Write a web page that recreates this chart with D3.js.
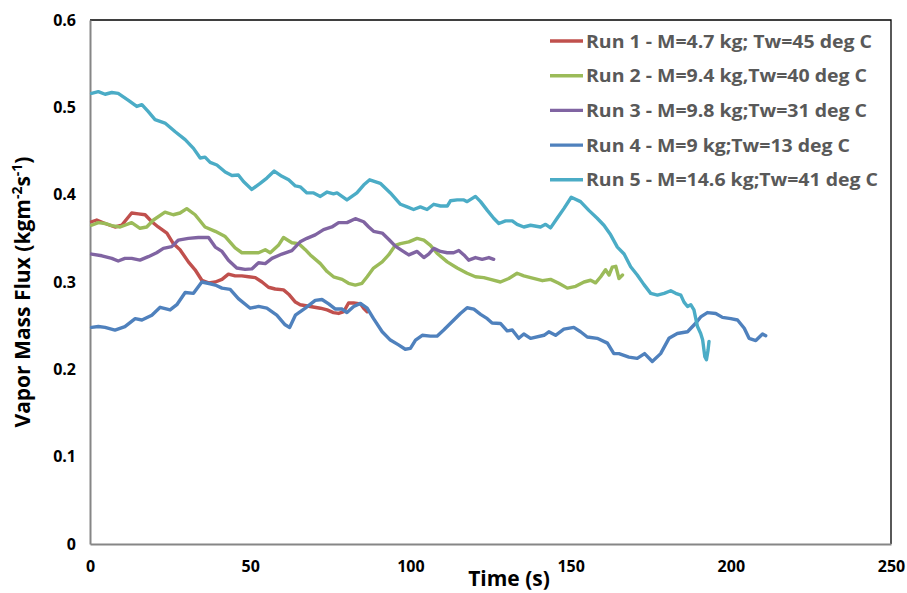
<!DOCTYPE html>
<html>
<head>
<meta charset="utf-8">
<script src="https://cdn.jsdelivr.net/npm/d3@7"></script>
<style>
  html, body { margin: 0; padding: 0; background: #fff; }
  svg { display: block; font-family: "Open Sans", "DejaVu Sans", sans-serif; }
</style>
</head>
<body>
<svg id="chart" width="907" height="593"></svg>
<script>
// ---- Data ----
const xTicks = [0, 50, 100, 150, 200, 250];
const yTicks = [0, 0.1, 0.2, 0.3, 0.4, 0.5, 0.6];
const yTickLabels = ["0", "0.1", "0.2", "0.3", "0.4", "0.5", "0.6"];

const seriesNames = [
  "Run 1 - M=4.7 kg; Tw=45 deg C",
  "Run 2 - M=9.4 kg,Tw=40 deg C",
  "Run 3 - M=9.8 kg;Tw=31 deg C",
  "Run 4 - M=9 kg;Tw=13 deg C",
  "Run 5 - M=14.6 kg;Tw=41 deg C"
];
const seriesColors = ["#C0504D", "#9BBB59", "#8064A2", "#4F81BD", "#4BACC6"];

const run1T = [0.5,2.1,4.7,7.8,9.9,13.0,15.1,17.2,19.3,21.3,24.0,26.0,28.1,30.7,32.8,34.9,37.0,39.1,41.2,43.2,45.3,47.4,49.5,51.6,53.7,55.7,57.8,60.4,62.0,64.1,65.6,68.75,71.9,74.0,76.0,77.6,79.2,80.7,82.3,84.4,85.4,86.5];
const run1V = [0.369,0.371,0.367,0.363,0.365,0.379,0.378,0.377,0.369,0.363,0.356,0.344,0.337,0.323,0.314,0.302,0.299,0.300,0.303,0.309,0.307,0.307,0.306,0.305,0.300,0.294,0.292,0.291,0.286,0.277,0.274,0.272,0.270,0.268,0.265,0.264,0.266,0.276,0.276,0.275,0.270,0.266];

const run2T = [0.5,2.6,4.7,6.8,9.4,13.0,15.6,17.7,19.8,23.4,26.0,28.1,30.2,32.8,35.9,39.1,42.2,45.3,47.4,50.5,52.6,54.7,56.25,58.8,60.4,63.0,65.1,67.2,68.75,71.9,74.0,76.0,78.7,80.7,82.8,84.9,86.5,88.5,91.2,93.2,95.3,96.9,99.5,102.1,104.2,106.25,108.3,111.5,114.6,117.7,120.3,122.9,125.0,128.1,130.7,133.3,135.4,137.5,141.2,143.75,146.3,149.0,151.6,154.2,156.25,157.8,159.4,160.9,162.0,163.0,164.1,165.1,166.2];
const run2V = [0.365,0.368,0.367,0.3645,0.363,0.368,0.3615,0.363,0.371,0.380,0.377,0.379,0.384,0.377,0.363,0.358,0.352,0.339,0.3335,0.3335,0.3335,0.337,0.3335,0.342,0.351,0.345,0.344,0.337,0.331,0.321,0.312,0.306,0.303,0.2985,0.2965,0.2985,0.306,0.316,0.323,0.331,0.342,0.344,0.346,0.350,0.348,0.342,0.333,0.323,0.316,0.310,0.306,0.305,0.303,0.300,0.304,0.310,0.307,0.305,0.3015,0.303,0.2985,0.293,0.295,0.300,0.302,0.299,0.306,0.314,0.308,0.317,0.318,0.304,0.308];

const run3T = [0.5,3.7,6.8,8.8,10.9,13.0,15.6,18.2,20.8,22.9,25.5,27.6,30.7,33.8,37.0,39.1,41.2,43.2,45.8,48.4,50.5,52.6,54.7,56.8,59.9,63.0,65.6,67.7,70.3,72.9,75.5,77.6,80.2,82.8,85.4,87.0,88.5,91.2,93.2,95.3,97.4,99.5,102.1,104.2,105.7,107.3,109.4,111.5,113.5,115.1,116.7,118.2,120.3,122.4,124.5,126.0];
const run3V = [0.332,0.330,0.327,0.324,0.327,0.327,0.325,0.329,0.3335,0.3385,0.3405,0.348,0.350,0.351,0.351,0.340,0.335,0.325,0.316,0.3145,0.315,0.322,0.321,0.327,0.332,0.336,0.346,0.350,0.354,0.360,0.363,0.368,0.368,0.3725,0.369,0.363,0.358,0.356,0.349,0.341,0.336,0.331,0.335,0.328,0.332,0.3385,0.335,0.3335,0.3335,0.336,0.331,0.325,0.328,0.326,0.328,0.326];

const run4T = [0.5,2.6,4.7,7.8,10.9,14.1,16.2,19.3,21.9,25.0,27.1,29.7,32.3,34.9,37.5,39.1,41.2,43.75,46.3,50.0,52.6,55.2,58.3,60.9,62.3,64.1,67.2,70.3,72.4,74.5,76.6,78.7,80.2,82.3,84.4,86.5,88.5,91.2,93.75,96.3,98.4,100.0,101.6,103.7,106.25,108.3,110.4,113.0,115.6,117.7,119.8,121.9,124.0,125.5,128.1,130.2,131.8,133.8,135.4,137.5,141.7,143.2,145.3,147.9,151.0,153.1,155.2,158.3,161.5,163.5,165.1,168.2,170.8,173.1,175.5,178.1,180.7,183.3,186.5,189.1,190.6,192.7,195.3,197.4,200.0,202.1,204.2,205.7,207.8,209.9,210.9];
const run4V = [0.248,0.249,0.248,0.245,0.249,0.258,0.2565,0.262,0.271,0.268,0.274,0.288,0.287,0.300,0.298,0.2965,0.293,0.2915,0.281,0.270,0.272,0.270,0.262,0.251,0.248,0.262,0.270,0.279,0.280,0.275,0.269,0.269,0.265,0.272,0.2755,0.270,0.258,0.243,0.2335,0.228,0.223,0.224,0.2335,0.239,0.238,0.238,0.245,0.2545,0.264,0.2705,0.269,0.263,0.258,0.253,0.2525,0.244,0.245,0.2355,0.2405,0.2355,0.239,0.243,0.239,0.246,0.248,0.243,0.237,0.2355,0.230,0.218,0.218,0.214,0.2125,0.218,0.209,0.218,0.2355,0.241,0.243,0.253,0.260,0.265,0.264,0.2595,0.258,0.2565,0.247,0.2355,0.233,0.2405,0.2385];

const run5T = [0.5,2.6,4.7,6.8,8.8,12.0,14.6,16.2,18.2,20.3,23.4,26.6,29.7,32.3,34.4,35.9,37.5,39.6,42.2,44.3,46.3,47.9,50.5,53.1,55.2,57.5,59.9,62.0,64.1,65.6,67.7,69.8,71.9,74.0,76.0,77.1,80.2,83.3,85.4,87.3,90.6,93.75,96.9,99.0,101.0,103.1,105.2,107.3,109.4,111.5,112.5,114.6,116.7,117.7,120.3,121.9,124.0,126.0,127.6,129.7,131.8,133.3,135.4,137.5,140.6,142.2,143.75,145.8,147.9,150.2,153.1,155.7,158.3,160.4,162.5,164.6,166.7,168.75,170.8,172.9,175.0,177.1,179.2,181.25,182.8,184.4,185.4,186.5,187.5,188.5,189.6,190.6,191.2,191.9,192.4,192.9,193.2];
const run5V = [0.516,0.518,0.515,0.517,0.516,0.508,0.501,0.503,0.495,0.486,0.482,0.472,0.463,0.453,0.442,0.443,0.437,0.434,0.426,0.422,0.4225,0.415,0.406,0.413,0.419,0.427,0.421,0.417,0.410,0.409,0.402,0.402,0.398,0.403,0.401,0.402,0.394,0.402,0.411,0.417,0.413,0.402,0.389,0.386,0.383,0.386,0.383,0.389,0.387,0.387,0.393,0.394,0.394,0.392,0.398,0.392,0.382,0.373,0.367,0.370,0.370,0.366,0.363,0.365,0.363,0.366,0.362,0.373,0.384,0.397,0.392,0.382,0.373,0.365,0.354,0.340,0.332,0.3175,0.308,0.297,0.287,0.285,0.287,0.290,0.287,0.285,0.277,0.272,0.274,0.268,0.249,0.241,0.234,0.2145,0.211,0.222,0.232];

const seriesT = [run1T, run2T, run3T, run4T, run5T];
const seriesV = [run1V, run2V, run3V, run4V, run5V];
const legendTextWidths = [286, 281, 281, 264, 292];

// ---- Layout ----
const plot = { left: 90, right: 891, top: 20, bottom: 544 };
const svg = d3.select("#chart");

const x = d3.scaleLinear().domain([0, 250]).range([plot.left, plot.right]);
const y = d3.scaleLinear().domain([0, 0.6]).range([plot.bottom, plot.top]);

// plot area border (top/right dark)
svg.append("path")
  .attr("d", `M${plot.left},${plot.top}H${plot.right}V${plot.bottom}`)
  .attr("fill", "none").attr("stroke", "#000").attr("stroke-width", 1.3);

// axes
const xAxis = d3.axisBottom(x).tickValues(xTicks).tickSize(0).tickPadding(17).tickFormat(d3.format("d"));
const gx = svg.append("g").attr("transform", `translate(0,${plot.bottom})`).call(xAxis);
gx.select(".domain").attr("stroke", "#868686").attr("stroke-width", 2);
gx.selectAll("text").attr("font-size", 16).attr("font-weight", "bold").attr("fill", "#000")
  .attr("font-family", "'Open Sans', sans-serif");

const yAxis = d3.axisLeft(y).tickValues(yTicks).tickSize(0).tickPadding(14)
  .tickFormat((d, i) => yTickLabels[i]);
const gy = svg.append("g").attr("transform", `translate(${plot.left},0)`).call(yAxis);
gy.select(".domain").attr("stroke", "#868686").attr("stroke-width", 2);
gy.selectAll("text").attr("font-size", 16).attr("font-weight", "bold").attr("fill", "#000")
  .attr("font-family", "'Open Sans', sans-serif");

// lines
const line = d3.line().x(d => x(d[0])).y(d => y(d[1]));
seriesT.forEach((ts, i) => {
  const pts = ts.map((t, j) => [t, seriesV[i][j]]);
  svg.append("path").datum(pts)
    .attr("d", line)
    .attr("fill", "none")
    .attr("stroke", seriesColors[i])
    .attr("stroke-width", 3.4)
    .attr("stroke-linejoin", "round")
    .attr("stroke-linecap", "round");
});

// axis titles
svg.append("text")
  .attr("x", 509).attr("y", 586)
  .attr("text-anchor", "middle")
  .attr("font-size", 21).attr("font-weight", "bold").attr("fill", "#000")
  .text("Time (s)");

const yt = svg.append("text")
  .attr("transform", "translate(30,292) rotate(-90)")
  .attr("text-anchor", "middle")
  .attr("font-size", 21).attr("font-weight", "bold").attr("fill", "#000");
yt.append("tspan").text("Vapor Mass Flux (kgm");
yt.append("tspan").attr("dy", -8).attr("font-size", 14).text("-2");
yt.append("tspan").attr("dy", 8).text("s");
yt.append("tspan").attr("dy", -8).attr("font-size", 14).text("-1");
yt.append("tspan").attr("dy", 8).text(")");

// legend
const legendY0 = 41, legendStep = 34.7;
const lg = svg.append("g");
seriesNames.forEach((name, i) => {
  const cy = legendY0 + i * legendStep;
  lg.append("line")
    .attr("x1", 550).attr("x2", 583).attr("y1", cy).attr("y2", cy)
    .attr("stroke", seriesColors[i]).attr("stroke-width", 3.4);
  lg.append("text")
    .attr("x", 586).attr("y", cy + 6.5)
    .attr("font-size", 18).attr("font-weight", "bold").attr("fill", "#595959")
    .attr("textLength", legendTextWidths[i])
    .attr("lengthAdjust", "spacingAndGlyphs")
    .text(name);
});
</script>
</body>
</html>
